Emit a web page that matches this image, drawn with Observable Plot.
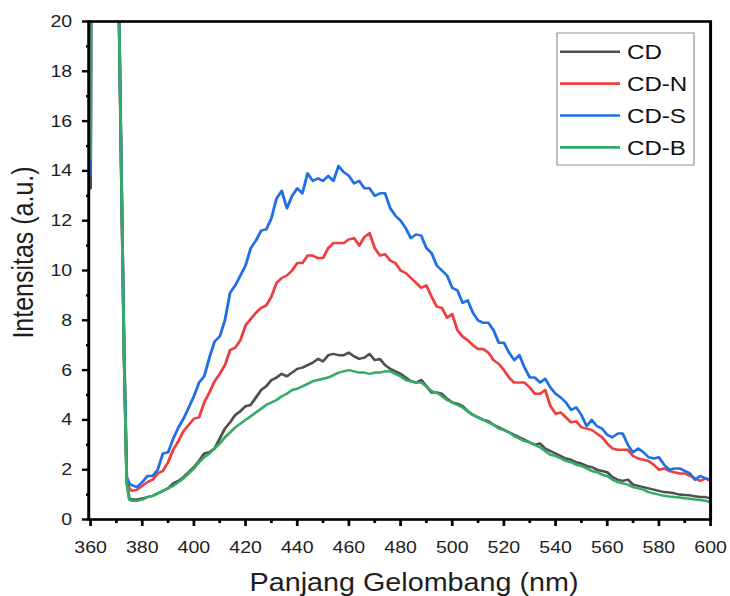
<!DOCTYPE html>
<html>
<head>
<meta charset="utf-8">
<script src="https://cdn.jsdelivr.net/npm/d3@7"></script>
<script src="https://cdn.jsdelivr.net/npm/@observablehq/plot@0.6"></script>
<style>
  html, body { margin: 0; padding: 0; background: #fff; }
  #chart svg { display: block; }
</style>
</head>
<body>
<div id="chart"></div>
<script>
// Emission wavelengths (nm); the first points trace the off-scale scattering peak
const wavelength = [360, 361, 370, 371, 372, 373, 374, 375,
  376, 378, 380, 382, 384, 386, 388, 390, 392, 394,
  396, 398, 400, 402, 404, 406, 408, 410, 412, 414,
  416, 418, 420, 422, 424, 426, 428, 430, 432, 434,
  436, 438, 440, 442, 444, 446, 448, 450, 452, 454,
  456, 458, 460, 462, 464, 466, 468, 470, 472, 474,
  476, 478, 480, 482, 484, 486, 488, 490, 492, 494,
  496, 498, 500, 502, 504, 506, 508, 510, 512, 514,
  516, 518, 520, 522, 524, 526, 528, 530, 532, 534,
  536, 538, 540, 542, 544, 546, 548, 550, 552, 554,
  556, 558, 560, 562, 564, 566, 568, 570, 572, 574,
  576, 578, 580, 582, 584, 586, 588, 590, 592, 594,
  596, 598, 600];

// Fluorescence intensity (a.u.) of each sample
const intensityCD = [13.3, 60, 60, 20.4, 13.2, 6.4, 1.5, 0.85,
  0.8, 0.8, 0.85, 0.9, 0.95, 1.05, 1.15, 1.25, 1.45, 1.55,
  1.7, 1.9, 2.1, 2.35, 2.65, 2.7, 2.85, 3.25, 3.65, 3.9,
  4.2, 4.35, 4.55, 4.6, 4.9, 5.2, 5.35, 5.6, 5.7, 5.85,
  5.75, 5.9, 6.05, 6.1, 6.2, 6.3, 6.45, 6.35, 6.6, 6.65,
  6.6, 6.6, 6.7, 6.55, 6.45, 6.5, 6.65, 6.4, 6.45, 6.2,
  6.05, 5.95, 5.85, 5.7, 5.55, 5.5, 5.6, 5.35, 5.1, 5.1,
  5.05, 4.85, 4.7, 4.65, 4.55, 4.35, 4.2, 4.1, 4.0, 3.95,
  3.8, 3.7, 3.6, 3.5, 3.4, 3.3, 3.2, 3.1, 3.0, 3.05,
  2.85, 2.75, 2.65, 2.55, 2.45, 2.4, 2.3, 2.25, 2.15, 2.1,
  2.0, 1.95, 1.9, 1.7, 1.6, 1.55, 1.6, 1.4, 1.35, 1.3,
  1.25, 1.2, 1.15, 1.1, 1.08, 1.05, 1.0, 0.98, 0.97, 0.93,
  0.9, 0.9, 0.85];

const intensityCDN = [13.9, 60, 60, 20.4, 13.4, 6.6, 1.6, 1.25,
  1.15, 1.2, 1.35, 1.5, 1.6, 1.85, 1.95, 2.3, 2.8, 3.15,
  3.55, 3.8, 4.05, 4.1, 4.7, 5.1, 5.55, 5.85, 6.2, 6.8,
  6.9, 7.2, 7.8, 8.05, 8.3, 8.5, 8.6, 8.95, 9.5, 9.7,
  9.8, 10.0, 10.3, 10.3, 10.6, 10.6, 10.5, 10.5, 10.9, 11.1,
  11.1, 11.1, 11.25, 11.3, 11.0, 11.35, 11.5, 10.9, 10.6, 10.65,
  10.4, 10.3, 10.0, 9.9, 9.7, 9.5, 9.3, 9.4, 8.95, 8.55,
  8.5, 8.1, 8.25, 7.6, 7.35, 7.2, 7.0, 6.85, 6.85, 6.7,
  6.4, 6.25, 6.0, 5.7, 5.5, 5.5, 5.5, 5.3, 5.05, 5.05,
  5.2, 4.55, 4.25, 4.3, 4.1, 3.9, 3.95, 3.7, 3.65, 3.6,
  3.45, 3.3, 3.05, 2.85, 2.8, 2.8, 2.8, 2.55, 2.45, 2.4,
  2.35, 2.2, 2.0, 2.05, 1.95, 1.9, 1.85, 1.85, 1.75, 1.65,
  1.55, 1.65, 1.55];

const intensityCDS = [13.8, 60, 60, 20.4, 13.5, 6.7, 1.7, 1.45,
  1.38, 1.3, 1.5, 1.75, 1.75, 2.0, 2.65, 2.7, 3.25, 3.7,
  4.05, 4.5, 4.95, 5.5, 5.75, 6.5, 7.15, 7.35, 8.0, 9.1,
  9.4, 9.8, 10.2, 10.9, 11.2, 11.6, 11.65, 12.1, 12.9, 13.2,
  12.5, 13.0, 13.3, 13.1, 13.9, 13.6, 13.7, 13.6, 13.8, 13.6,
  14.2, 13.95, 13.8, 13.5, 13.6, 13.3, 13.3, 13.0, 13.1, 13.1,
  12.5, 12.2, 12.0, 11.7, 11.3, 11.45, 11.4, 10.9, 10.7, 10.2,
  10.0, 9.8, 9.3, 9.2, 8.7, 8.8, 8.3, 8.0, 7.9, 7.9,
  7.6, 7.1, 7.1, 6.7, 6.4, 6.6, 6.1, 5.7, 5.7, 5.5,
  5.65, 5.3, 5.05, 4.9, 4.7, 4.4, 4.5, 4.2, 3.75, 4.0,
  3.75, 3.65, 3.4, 3.3, 3.45, 3.45, 3.0, 2.7, 2.85, 2.7,
  2.5, 2.45, 2.5, 2.2, 2.0, 2.05, 2.05, 1.95, 1.85, 1.6,
  1.75, 1.65, 1.6];

const intensityCDB = [14.5, 60, 60, 20.4, 13.2, 6.4, 1.45, 0.8,
  0.75, 0.75, 0.8, 0.9, 0.95, 1.05, 1.15, 1.25, 1.35, 1.5,
  1.65, 1.85, 2.05, 2.3, 2.5, 2.65, 2.85, 3.05, 3.3, 3.5,
  3.7, 3.85, 4.0, 4.15, 4.3, 4.45, 4.6, 4.7, 4.8, 4.95,
  5.05, 5.2, 5.25, 5.35, 5.45, 5.55, 5.6, 5.65, 5.7, 5.8,
  5.9, 5.95, 6.0, 5.95, 5.9, 5.9, 5.85, 5.9, 5.9, 5.95,
  5.95, 5.85, 5.75, 5.6, 5.55, 5.5, 5.5, 5.35, 5.15, 5.1,
  4.95, 4.8, 4.7, 4.6, 4.5, 4.35, 4.2, 4.1, 4.0, 3.9,
  3.8, 3.65, 3.6, 3.5, 3.35, 3.25, 3.15, 3.1, 3.0, 2.9,
  2.75, 2.6, 2.55, 2.45, 2.35, 2.3, 2.2, 2.15, 2.05, 1.95,
  1.9, 1.8, 1.75, 1.6, 1.5, 1.45, 1.4, 1.3, 1.25, 1.2,
  1.1, 1.05, 1.0, 0.95, 0.92, 0.9, 0.88, 0.85, 0.83, 0.8,
  0.78, 0.75, 0.7];

const seriesNames = ["CD", "CD-N", "CD-S", "CD-B"];
const seriesColors = ["#4f4f4f", "#ef3e3e", "#2170e3", "#34ab66"];
const seriesValues = [intensityCD, intensityCDN, intensityCDS, intensityCDB];

const xMajorTicks = [360, 380, 400, 420, 440, 460, 480, 500, 520, 540, 560, 580, 600];
const xMinorTicks = [370, 390, 410, 430, 450, 470, 490, 510, 530, 550, 570, 590];
const yMajorTicks = [0, 2, 4, 6, 8, 10, 12, 14, 16, 18, 20];
const yMinorTicks = [1, 3, 5, 7, 9, 11, 13, 15, 17, 19];

const xTitle = "Panjang Gelombang (nm)";
const yTitle = "Intensitas (a.u.)";

const rows = seriesNames.flatMap((name, i) =>
  wavelength.map((w, j) => ({wavelength: w, intensity: seriesValues[i][j], sample: name}))
);

// The figure is laid out on a narrower canvas and then widened horizontally
const W = 730, H = 596;
const innerW = 635;
const sx = W / innerW;
const font = "'Liberation Sans', Arial, Helvetica, sans-serif";
const ink = "#1e1e1e";

const chart = Plot.plot({
  width: innerW,
  height: H,
  marginLeft: 90 / sx,
  marginRight: 20 / sx,
  marginTop: 21,
  marginBottom: 77,
  style: {fontFamily: font, background: "#fff", color: ink},
  x: {domain: [360, 600]},
  y: {domain: [0, 20]},
  color: {domain: seriesNames, range: seriesColors},
  marks: [
    Plot.lineY(rows, {x: "wavelength", y: "intensity", stroke: "sample", strokeWidth: 2.5, clip: true}),
    Plot.axisX(xMajorTicks, {tickSize: 7, tickPadding: 14, fontSize: 17, strokeWidth: 2.4, stroke: "#000", fill: ink, label: null}),
    Plot.axisX(xMinorTicks, {tickSize: 4, tickFormat: () => "", strokeWidth: 2.4, stroke: "#000", label: null}),
    Plot.axisY(yMajorTicks, {tickSize: 7, tickPadding: 9, fontSize: 17, strokeWidth: 2.4, stroke: "#000", fill: ink, label: null}),
    Plot.axisY(yMinorTicks, {tickSize: 3.5, tickFormat: () => "", strokeWidth: 2.4, stroke: "#000", label: null}),
    Plot.frame({stroke: "#000", strokeWidth: 2.6, insetLeft: -1.6}),
    Plot.text([xTitle], {text: d => d, frameAnchor: "bottom", textAnchor: "middle", lineAnchor: "bottom", dx: 11.7, dy: 71, fontSize: 25, fill: ink}),
    Plot.text([yTitle], {text: d => d, frameAnchor: "left", textAnchor: "middle", rotate: -90, lineAnchor: "bottom", dx: -50.5, dy: -18, fontSize: 25, fill: ink})
  ]
});

// Legend box in the upper right corner of the frame
const svg = d3.select(chart);
const legend = svg.append("g").attr("transform", `translate(${557 / sx},33)`);
legend.append("rect")
  .attr("width", 137 / sx).attr("height", 132)
  .attr("fill", "#fff").attr("stroke", "#a3a3a3").attr("stroke-width", 1.2);
seriesNames.forEach((name, i) => {
  const y = 18.7 + i * 31.9;
  legend.append("line")
    .attr("x1", 3 / sx).attr("x2", 63 / sx).attr("y1", y).attr("y2", y)
    .attr("stroke", seriesColors[i]).attr("stroke-width", 2.6);
  legend.append("text")
    .attr("x", 70 / sx).attr("y", y).attr("dy", "0.36em")
    .attr("text-anchor", "start")
    .attr("font-family", font).attr("font-size", 21).attr("fill", "#111")
    .text(name);
});

// Widen to the page width
chart.setAttribute("width", W);
chart.setAttribute("height", H);
chart.setAttribute("viewBox", `0 0 ${innerW} ${H}`);
chart.setAttribute("preserveAspectRatio", "none");
chart.style.width = W + "px";
chart.style.height = H + "px";
chart.style.maxWidth = "none";

document.getElementById("chart").appendChild(chart);
</script>
</body>
</html>
